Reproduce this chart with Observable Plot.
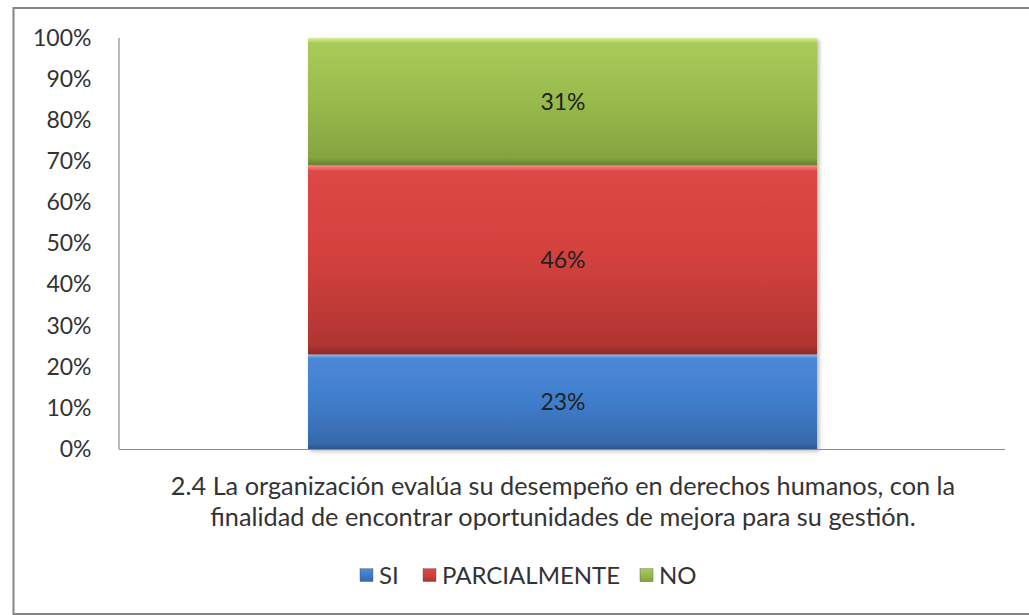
<!DOCTYPE html>
<html>
<head>
<meta charset="utf-8">
<script src="https://cdn.jsdelivr.net/npm/d3@7"></script>
<script src="https://cdn.jsdelivr.net/npm/@observablehq/plot@0.6"></script>
<style>
  html, body { margin: 0; padding: 0; background: white; overflow: hidden; }
  #chart svg { display: block; }
</style>
</head>
<body>
<div id="chart"></div>
<script>
// ---- data ----
const categories = ["2.4 La organización evalúa su desempeño en derechos humanos, con la\nfinalidad de encontrar oportunidades de mejora para su gestión."];
const seriesKeys = ["SI", "PARCIALMENTE", "NO"];
const seriesValues = [0.23, 0.46, 0.31];
const yTicks = [0, 0.1, 0.2, 0.3, 0.4, 0.5, 0.6, 0.7, 0.8, 0.9, 1.0];

// ---- styles ----
const gradStops = {
  SI: [["0%", "#8dbcf2"], ["4%", "#4c89d8"], ["50%", "#3f7dcb"], ["94%", "#3769ad"], ["100%", "#2b5591"]],
  PARCIALMENTE: [["0%", "#ff8a86"], ["3%", "#dc4844"], ["50%", "#d2413d"], ["95%", "#b03532"], ["100%", "#8e2a28"]],
  NO: [["0%", "#d6f099"], ["4%", "#a8cb58"], ["50%", "#98ba4c"], ["94%", "#84a440"], ["100%", "#65802f"]]
};
const textColor = "#333333";
const fontFamily = "Lato, 'Open Sans', sans-serif";

const data = seriesKeys.map((k, i) => ({category: categories[0], key: k, value: seriesValues[i]}));

const chart = Plot.plot({
  width: 1029,
  height: 615,
  marginLeft: 119,
  marginRight: 24,
  marginTop: 38,
  marginBottom: 166,
  style: {fontFamily, fontSize: "23px", background: "white", color: textColor},
  x: {domain: categories, padding: 0.27, label: null},
  y: {domain: [0, 1], label: null},
  color: {domain: seriesKeys, range: seriesKeys.map(k => `url(#grad-${k})`)},
  marks: [
    Plot.barY(data, {x: "category", y: "value", fill: "key"}),
    Plot.text(data, Plot.stackY({x: "category", y: "value", text: d => Math.round(d.value * 100) + "%", fill: "#222222", fontSize: 23})),
    Plot.ruleY([0], {stroke: "#8c8c8c", strokeWidth: 1.2}),
    Plot.axisY({ticks: yTicks, tickFormat: d => Math.round(d * 100) + "%", tickSize: 0, tickPadding: 28, fontSize: 23, fill: textColor, label: null}),
    Plot.axisX({tickSize: 0, tickPadding: 24, fontSize: 25.3, lineHeight: 1.21, fill: textColor, label: null})
  ]
});

document.getElementById("chart").appendChild(chart);

const svg = d3.select(chart);
const defs = svg.insert("defs", ":first-child");
for (const k of seriesKeys) {
  const g = defs.append("linearGradient").attr("id", `grad-${k}`).attr("x1", 0).attr("y1", 0).attr("x2", 0).attr("y2", 1);
  for (const [o, c] of gradStops[k]) g.append("stop").attr("offset", o).attr("stop-color", c);
}
const filt = defs.append("filter").attr("id", "shadow").attr("x", "-5%").attr("y", "-5%").attr("width", "115%").attr("height", "115%");
filt.append("feDropShadow").attr("dx", 2).attr("dy", 2).attr("stdDeviation", 2).attr("flood-color", "#000").attr("flood-opacity", 0.3);

// shadow on bars
svg.selectAll("g[aria-label='bar']").attr("filter", "url(#shadow)");

// y axis line
const ys = chart.scale("y");
const xr = chart.scale("x").range;
svg.append("line")
  .attr("x1", xr[0]).attr("x2", xr[0])
  .attr("y1", ys.apply(1)).attr("y2", ys.apply(0))
  .attr("stroke", "#8c8c8c").attr("stroke-width", 1.2);

// outer border: left, top and bottom edges only (right edge lies outside the picture)
svg.append("path")
  .attr("d", "M1029,8 H13.5 V614 H1029")
  .attr("fill", "none").attr("stroke", "#868686").attr("stroke-width", 2);

// legend
const legendX = [360, 423, 640];
const sw = 13, gapSwatch = 6;
const legend = svg.append("g")
  .attr("font-family", fontFamily).attr("font-size", 24).attr("fill", textColor)
  .attr("text-anchor", "start")
  .attr("transform", "translate(0,575)");
seriesKeys.forEach((k, i) => {
  const it = legend.append("g").attr("transform", `translate(${legendX[i]},0)`);
  it.append("rect").attr("x", 0).attr("y", -sw / 2).attr("width", sw).attr("height", sw)
    .attr("fill", `url(#grad-${k})`).attr("stroke", "#555").attr("stroke-width", 0.4);
  it.append("text").attr("x", sw + gapSwatch).attr("dy", "0.36em").attr("text-anchor", "start").text(k);
});
</script>
</body>
</html>
